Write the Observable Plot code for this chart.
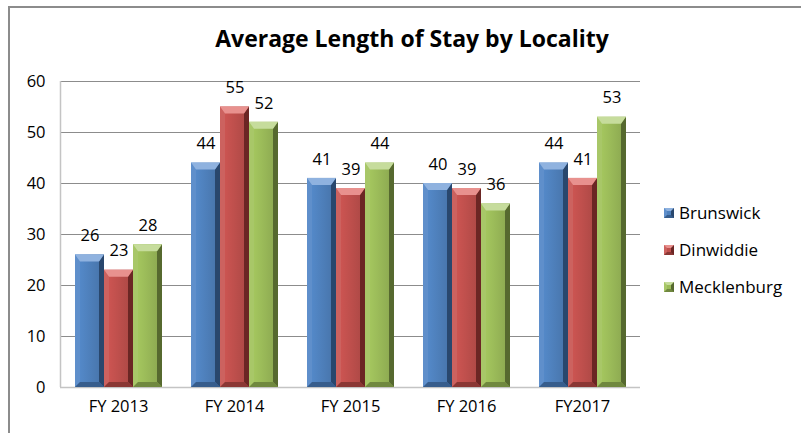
<!DOCTYPE html>
<html><head><meta charset="utf-8">
<script src="https://cdn.jsdelivr.net/npm/d3@7"></script>
<script src="https://cdn.jsdelivr.net/npm/@observablehq/plot@0.6"></script>
<style>
body{margin:0;background:#fff;}
#wrap{position:relative;width:801px;height:433px;overflow:hidden;font-family:"Open Sans",sans-serif;color:#000;}
#border{position:absolute;left:8px;top:6px;width:900px;height:600px;border:2px solid #8c8c8c;box-sizing:border-box;}
#chart{position:absolute;left:0;top:0;}
#title{position:absolute;left:0;width:824px;top:23px;text-align:center;font-weight:bold;font-size:23px;line-height:30px;}
#legend{position:absolute;left:664px;top:194px;font-size:17px;}
.item{display:flex;align-items:center;height:37px;line-height:24px;}
.sw{width:4px;height:4px;border-style:solid;border-width:3px;margin-right:5px;}
</style></head><body>
<div id="wrap"><div id="border"></div><div id="chart"></div><div id="title"></div><div id="legend"></div></div>
<script>
const title = "Average Length of Stay by Locality";
const years = ["FY 2013", "FY 2014", "FY 2015", "FY 2016", "FY2017"];
const series = ["Brunswick", "Dinwiddie", "Mecklenburg"];
const brunswick = [26, 44, 41, 40, 44];
const dinwiddie = [23, 55, 39, 39, 41];
const mecklenburg = [28, 52, 44, 36, 53];
const yTicks = [0, 10, 20, 30, 40, 50, 60];

const faceColors = ["#4f81bd", "#c0504d", "#9bbb59"];
const lightColors = ["#8fb2df", "#e8918e", "#c6dc9c"];
const leftColors = ["#5f8fcb", "#cc625f", "#a8c768"];
const darkColors = ["#29476d", "#6b2624", "#56692f"];
const bottomColors = ["#375d8c", "#8a3734", "#70883f"];

const values = [brunswick, dinwiddie, mecklenburg];
const data = [];
years.forEach((y, i) => series.forEach((s, j) => data.push({year: y, series: s, value: values[j][i]})));

document.getElementById("title").textContent = title;

const chart = Plot.plot({
  width: 801,
  height: 433,
  marginLeft: 60,
  marginRight: 161,
  marginTop: 81,
  marginBottom: 46,
  style: {fontSize: "16.5px", fontFamily: "'Open Sans', sans-serif", color: "#000", background: "transparent"},
  fx: {domain: years, padding: 0, tickSize: 0, tickPadding: 13, label: null, axis: "bottom"},
  x: {domain: series, paddingInner: 0, paddingOuter: 0.48, axis: null},
  y: {domain: [0, 60], ticks: yTicks, tickSize: 0, tickPadding: 15, label: null},
  color: {domain: series, range: faceColors},
  marks: [
    Plot.ruleY(yTicks.filter(d => d > 0), {stroke: "#8c8c8c", strokeWidth: 1}),
    Plot.ruleY([0], {stroke: "#c4c4c4", strokeWidth: 1.5}),
    Plot.barY(data, {fx: "year", x: "series", y: "value", fill: "series"}),
    Plot.text(data, {fx: "year", x: "series", y: "value", text: d => String(d.value), dy: -19, fill: "#000", fontSize: 16.5})
  ]
});
document.getElementById("chart").appendChild(chart);

// gradients and bevels
const svg = d3.select(chart);
const defs = svg.insert("defs", ":first-child");
faceColors.forEach((c, i) => {
  const g = defs.append("linearGradient").attr("id", "face" + i).attr("x1", 0).attr("x2", 1).attr("y1", 0).attr("y2", 0);
  g.append("stop").attr("offset", "0%").attr("stop-color", d3.color(c).brighter(0.25));
  g.append("stop").attr("offset", "45%").attr("stop-color", c);
  g.append("stop").attr("offset", "100%").attr("stop-color", d3.color(c).darker(0.35));
});
// left axis line
svg.append("line").attr("x1", 60.5).attr("x2", 60.5).attr("y1", 81).attr("y2", 387).attr("stroke", "#c4c4c4").attr("stroke-width", 1.5);

svg.selectAll("g[aria-label='bar'] rect").each(function() {
  const r = d3.select(this);
  const fill = (r.attr("fill") || "").toLowerCase();
  const i = faceColors.indexOf(fill);
  if (i < 0) return;
  const x = +r.attr("x"), y = +r.attr("y"), w = +r.attr("width"), h = +r.attr("height");
  r.attr("fill", `url(#face${i})`);
  const p = d3.select(this.parentNode);
  const bx = 5, bt = 7, bb = 5;
  const poly = (pts, col) => p.append("polygon").attr("points", pts.map(d => d.join(",")).join(" ")).attr("fill", col);
  poly([[x, y], [x + bx, y + bt], [x + bx, y + h - bb], [x, y + h]], leftColors[i]);
  poly([[x + w, y], [x + w - bx, y + bt], [x + w - bx, y + h - bb], [x + w, y + h]], darkColors[i]);
  poly([[x, y + h], [x + bx, y + h - bb], [x + w - bx, y + h - bb], [x + w, y + h]], bottomColors[i]);
  poly([[x, y], [x + w, y], [x + w - bx, y + bt], [x + bx, y + bt]], lightColors[i]);
});

// legend
const legend = d3.select("#legend");
series.forEach((s, i) => {
  const it = legend.append("div").attr("class", "item");
  it.append("div").attr("class", "sw")
    .style("background", faceColors[i])
    .style("border-top-color", lightColors[i])
    .style("border-left-color", leftColors[i])
    .style("border-right-color", darkColors[i])
    .style("border-bottom-color", bottomColors[i]);
  it.append("span").text(s);
});
</script>
</body></html>
